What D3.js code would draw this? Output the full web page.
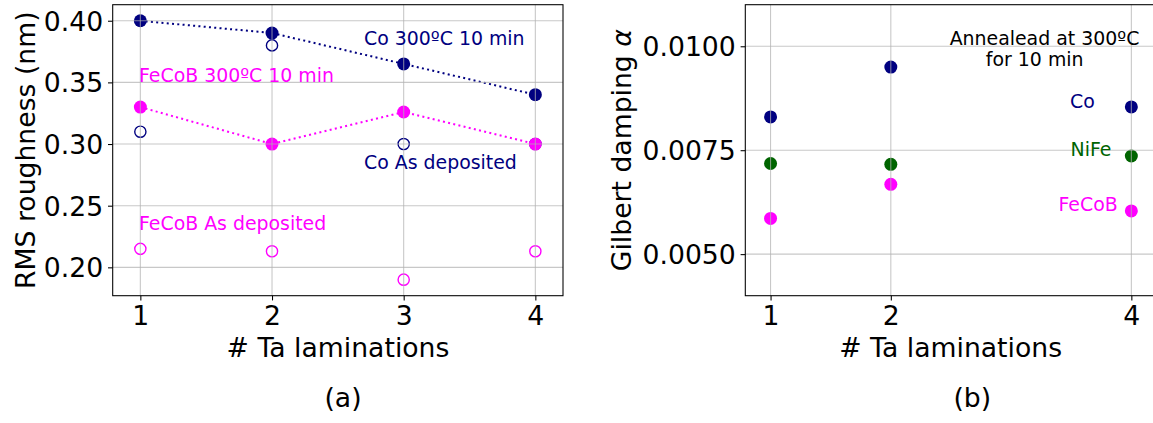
<!DOCTYPE html>
<html>
<head>
<meta charset="utf-8">
<script src="https://cdn.jsdelivr.net/npm/d3@7"></script>
<style>
  html, body { margin: 0; padding: 0; background: #fff; }
  svg { display: block; font-family: "DejaVu Sans", sans-serif; }
</style>
</head>
<body>
<svg id="chart" width="1153" height="423"></svg>
<script>
// ---------- Data: panel (a) RMS roughness ----------
const laminationsA = [1, 2, 3, 4];
const coAnnealed    = [0.40, 0.39, 0.365, 0.34];
const coAsDep       = [0.31, 0.38, 0.30, 0.30];
const fecobAnnealed = [0.33, 0.30, 0.326, 0.30];
const fecobAsDep    = [0.215, 0.213, 0.19, 0.213];
const yTicksA = [0.20, 0.25, 0.30, 0.35, 0.40];
const xTicksA = [1, 2, 3, 4];

// ---------- Data: panel (b) Gilbert damping ----------
const laminationsB = [1, 2, 4];
const coDamping    = [0.0083, 0.0095, 0.00854];
const nifeDamping  = [0.00718, 0.00716, 0.00736];
const fecobDamping = [0.00586, 0.00668, 0.00604];
const yTicksB = [0.0050, 0.0075, 0.0100];
const xTicksB = [1, 2, 4];

const NAVY = "#000080", MAGENTA = "#ff00ff", GREEN = "#006400";
const GRID = "#b0b0b0";
const ANN_SIZE = 18.9;
const svg = d3.select("#chart");

function panel(opts) {
  const g = svg.append("g");
  const x = d3.scaleLinear().domain(opts.xlim).range([opts.left, opts.right]);
  const y = d3.scaleLinear().domain(opts.ylim).range([opts.bottom, opts.top]);
  const layers = {
    marks: g.append("g"),
    grid: g.append("g"),
    frame: g.append("g"),
    text: g.append("g")
  };
  const clipId = "clip" + opts.id;
  svg.append("defs").append("clipPath").attr("id", clipId)
    .append("rect").attr("x", opts.left).attr("y", opts.top)
    .attr("width", opts.right - opts.left).attr("height", opts.bottom - opts.top);
  layers.marks.attr("clip-path", `url(#${clipId})`);

  // grid (drawn above markers, as in reference)
  layers.grid.selectAll("line.gx").data(opts.xTicks).join("line")
    .attr("x1", d => x(d)).attr("x2", d => x(d))
    .attr("y1", opts.top).attr("y2", opts.bottom)
    .attr("stroke", GRID).attr("stroke-opacity", 0.7).attr("stroke-width", 1.1);
  layers.grid.selectAll("line.gy").data(opts.yTicks).join("line")
    .attr("x1", opts.left).attr("x2", Math.min(opts.right, 1153))
    .attr("y1", d => y(d)).attr("y2", d => y(d))
    .attr("stroke", GRID).attr("stroke-opacity", 0.7).attr("stroke-width", 1.1);

  // axes
  const xAxis = d3.axisBottom(x).tickValues(opts.xTicks).tickFormat(d3.format("d"))
    .tickSize(4.7).tickPadding(5);
  const yAxis = d3.axisLeft(y).tickValues(opts.yTicks).tickFormat(d3.format(opts.yFmt))
    .tickSize(4.7).tickPadding(5);
  const gx = layers.frame.append("g").attr("transform", `translate(0,${opts.bottom})`).call(xAxis);
  const gy = layers.frame.append("g").attr("transform", `translate(${opts.left},0)`).call(yAxis);
  [gx, gy].forEach(a => {
    a.select(".domain").remove();
    a.selectAll(".tick line").attr("stroke", "#000").attr("stroke-width", 1.07);
    a.selectAll(".tick text").attr("fill", "#000").attr("font-size", 26.67)
      .attr("font-family", "DejaVu Sans");
  });
  gx.selectAll(".tick text").attr("dy", null).attr("y", 29);
  gy.selectAll(".tick text").attr("dy", "0.36em").attr("x", -9.5);

  // frame
  layers.frame.append("rect")
    .attr("x", opts.left).attr("y", opts.top)
    .attr("width", opts.right - opts.left).attr("height", opts.bottom - opts.top)
    .attr("fill", "none").attr("stroke", "#000").attr("stroke-width", 1.07);

  // axis labels
  layers.text.append("text")
    .attr("x", opts.xLabelX).attr("y", 356.5)
    .attr("text-anchor", "middle").attr("font-size", 26.67).attr("fill", "#000")
    .text("# Ta laminations");
  const yl = layers.text.append("text")
    .attr("transform", `translate(${opts.yLabelX},${(opts.top + opts.bottom) / 2}) rotate(-90)`)
    .attr("text-anchor", "middle").attr("font-size", 26.67).attr("fill", "#000");
  opts.yLabel(yl);
  layers.text.append("text")
    .attr("x", opts.tagX).attr("y", 406.5)
    .attr("text-anchor", "middle").attr("font-size", 26.67).attr("fill", "#000")
    .text(opts.tag);

  return { x, y, layers };
}

// ---------------- Panel (a) ----------------
const A = panel({
  id: "a", left: 112.7, right: 563, top: 4.7, bottom: 295.7,
  xlim: [0.79, 4.21], ylim: [0.177, 0.413],
  xTicks: xTicksA, yTicks: yTicksA, yFmt: ".2f",
  xLabelX: 338, yLabelX: 35, tagX: 343,
  tag: "(a)",
  yLabel: t => t.text("RMS roughness (nm)")
});

const lineA = (vals) => d3.line().x((d, i) => A.x(laminationsA[i])).y(d => A.y(d))(vals);

A.layers.marks.append("path").attr("d", lineA(coAnnealed))
  .attr("fill", "none").attr("stroke", NAVY).attr("stroke-width", 2)
  .attr("stroke-dasharray", "2,3.3");
A.layers.marks.append("path").attr("d", lineA(fecobAnnealed))
  .attr("fill", "none").attr("stroke", MAGENTA).attr("stroke-width", 2)
  .attr("stroke-dasharray", "2,3.3");

function openPts(layer, xs, vals, sx, sy, color) {
  layer.append("g").selectAll("circle").data(vals).join("circle")
    .attr("cx", (d, i) => sx(xs[i])).attr("cy", d => sy(d)).attr("r", 5.6)
    .attr("fill", "none").attr("stroke", color).attr("stroke-width", 1.4);
}
function filledPts(layer, xs, vals, sx, sy, color) {
  layer.append("g").selectAll("circle").data(vals).join("circle")
    .attr("cx", (d, i) => sx(xs[i])).attr("cy", d => sy(d)).attr("r", 6.5)
    .attr("fill", color);
}
openPts(A.layers.marks, laminationsA, coAsDep, A.x, A.y, NAVY);
openPts(A.layers.marks, laminationsA, fecobAsDep, A.x, A.y, MAGENTA);
filledPts(A.layers.marks, laminationsA, coAnnealed, A.x, A.y, NAVY);
filledPts(A.layers.marks, laminationsA, fecobAnnealed, A.x, A.y, MAGENTA);

const annA = [
  { t: "Co 300ºC 10 min", x: 364, y: 45, c: NAVY },
  { t: "FeCoB 300ºC 10 min", x: 139, y: 81.7, c: MAGENTA },
  { t: "Co As deposited", x: 364, y: 168.5, c: NAVY },
  { t: "FeCoB As deposited", x: 139, y: 230, c: MAGENTA }
];
A.layers.text.selectAll("text.ann").data(annA).join("text")
  .attr("x", d => d.x).attr("y", d => d.y).attr("fill", d => d.c)
  .attr("font-size", ANN_SIZE).text(d => d.t);

// ---------------- Panel (b) ----------------
const B = panel({
  id: "b", left: 745.3, right: 1156.6, top: 4.7, bottom: 295.7,
  xlim: [0.79, 4.21], ylim: [0.004, 0.011],
  xTicks: xTicksB, yTicks: yTicksB, yFmt: ".4f",
  xLabelX: 950.7, yLabelX: 631, tagX: 972.3,
  tag: "(b)",
  yLabel: t => { t.append("tspan").text("Gilbert damping ");
                 t.append("tspan").attr("font-style", "italic").text("α"); }
});
filledPts(B.layers.marks, laminationsB, coDamping, B.x, B.y, NAVY);
filledPts(B.layers.marks, laminationsB, nifeDamping, B.x, B.y, GREEN);
filledPts(B.layers.marks, laminationsB, fecobDamping, B.x, B.y, MAGENTA);

const annB = [
  { t: "Annealead at 300ºC", x: 1044.5, y: 45, c: "#000", a: "middle" },
  { t: "for 10 min", x: 1034.7, y: 66, c: "#000", a: "middle" },
  { t: "Co", x: 1070, y: 107.5, c: NAVY, a: "start" },
  { t: "NiFe", x: 1070.5, y: 156, c: GREEN, a: "start" },
  { t: "FeCoB", x: 1058.5, y: 210.7, c: MAGENTA, a: "start" }
];
B.layers.text.selectAll("text.ann").data(annB).join("text")
  .attr("x", d => d.x).attr("y", d => d.y).attr("fill", d => d.c)
  .attr("text-anchor", d => d.a)
  .attr("font-size", ANN_SIZE).text(d => d.t);
</script>
</body>
</html>
